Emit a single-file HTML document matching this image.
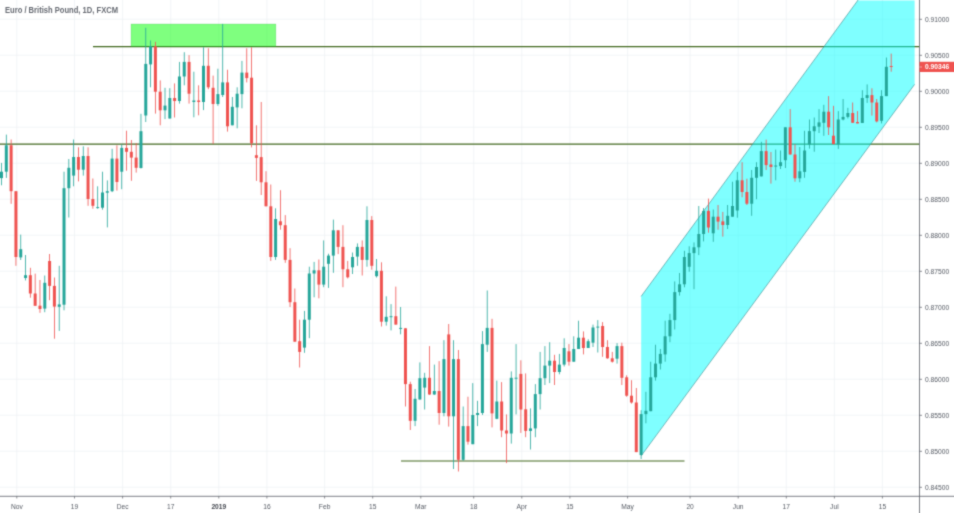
<!DOCTYPE html>
<html><head><meta charset="utf-8"><title>EURGBP</title>
<style>
html,body{margin:0;padding:0;background:#fff;}
body{width:954px;height:513px;overflow:hidden;font-family:"Liberation Sans",sans-serif;}
svg{display:block;}
text{font-family:"Liberation Sans",sans-serif;}
</style></head><body>
<svg width="954" height="513" viewBox="0 0 954 513">
<defs><filter id="soft" x="0" y="0" width="100%" height="100%" filterUnits="userSpaceOnUse" color-interpolation-filters="sRGB"><feConvolveMatrix order="3" kernelMatrix="0.03 0.1 0.03 0.1 0.48 0.1 0.03 0.1 0.03" divisor="1" edgeMode="duplicate" preserveAlpha="true"/></filter></defs>
<g filter="url(#soft)">
<rect x="-5" y="-5" width="964" height="523" fill="#ffffff"/>
<g stroke="#ecf0f4" stroke-width="0.7" fill="none">
<line x1="0" y1="19.2" x2="919.5" y2="19.2"/>
<line x1="0" y1="55.2" x2="919.5" y2="55.2"/>
<line x1="0" y1="91.2" x2="919.5" y2="91.2"/>
<line x1="0" y1="127.2" x2="919.5" y2="127.2"/>
<line x1="0" y1="163.2" x2="919.5" y2="163.2"/>
<line x1="0" y1="199.2" x2="919.5" y2="199.2"/>
<line x1="0" y1="235.2" x2="919.5" y2="235.2"/>
<line x1="0" y1="271.2" x2="919.5" y2="271.2"/>
<line x1="0" y1="307.2" x2="919.5" y2="307.2"/>
<line x1="0" y1="343.2" x2="919.5" y2="343.2"/>
<line x1="0" y1="379.2" x2="919.5" y2="379.2"/>
<line x1="0" y1="415.2" x2="919.5" y2="415.2"/>
<line x1="0" y1="451.2" x2="919.5" y2="451.2"/>
<line x1="0" y1="487.2" x2="919.5" y2="487.2"/>
<line x1="16.8" y1="0" x2="16.8" y2="496.3"/>
<line x1="74.5" y1="0" x2="74.5" y2="496.3"/>
<line x1="122.6" y1="0" x2="122.6" y2="496.3"/>
<line x1="170.7" y1="0" x2="170.7" y2="496.3"/>
<line x1="218.8" y1="0" x2="218.8" y2="496.3"/>
<line x1="266.9" y1="0" x2="266.9" y2="496.3"/>
<line x1="324.6" y1="0" x2="324.6" y2="496.3"/>
<line x1="372.7" y1="0" x2="372.7" y2="496.3"/>
<line x1="420.8" y1="0" x2="420.8" y2="496.3"/>
<line x1="473.7" y1="0" x2="473.7" y2="496.3"/>
<line x1="521.8" y1="0" x2="521.8" y2="496.3"/>
<line x1="569.9" y1="0" x2="569.9" y2="496.3"/>
<line x1="627.6" y1="0" x2="627.6" y2="496.3"/>
<line x1="690.1" y1="0" x2="690.1" y2="496.3"/>
<line x1="738.2" y1="0" x2="738.2" y2="496.3"/>
<line x1="786.3" y1="0" x2="786.3" y2="496.3"/>
<line x1="834.4" y1="0" x2="834.4" y2="496.3"/>
<line x1="882.4" y1="0" x2="882.4" y2="496.3"/>
</g>
<line x1="93" y1="46.6" x2="919.5" y2="46.6" stroke="#42691f" stroke-width="1.15"/>
<line x1="0" y1="144.15" x2="919.5" y2="144.15" stroke="#42691f" stroke-width="1.15"/>
<line x1="401" y1="461" x2="684.5" y2="461" stroke="#42691f" stroke-width="1.15"/>
<rect x="131" y="24" width="144.9" height="22.5" fill="#00ff00" fill-opacity="0.5" stroke="#2a9a3a" stroke-opacity="0.35" stroke-width="0.5"/>
<polygon points="641.2,296.3 857.7,0.6 914.6,0.6 914.6,84.4 641.2,455.8" fill="#00ffff" fill-opacity="0.5"/>
<line x1="641.2" y1="296.3" x2="858.1" y2="0" stroke="#3f8f92" stroke-width="0.7" stroke-opacity="0.9"/>
<line x1="641.2" y1="455.8" x2="914.6" y2="84.4" stroke="#3f8f92" stroke-width="0.7" stroke-opacity="0.9"/>
<g>
<rect x="1.10" y="162.9" width="0.8" height="22.4" fill="#26a69a"/><rect x="0.00" y="171.7" width="3" height="6.4" fill="#26a69a"/>
<rect x="5.91" y="134.6" width="0.8" height="43.3" fill="#26a69a"/><rect x="4.81" y="145.3" width="3" height="26.4" fill="#26a69a"/>
<rect x="10.72" y="139.5" width="0.8" height="64.3" fill="#ef5350"/><rect x="9.62" y="145.3" width="3" height="45.9" fill="#ef5350"/>
<rect x="15.53" y="191.2" width="0.8" height="74.6" fill="#ef5350"/><rect x="14.43" y="191.2" width="3" height="65.8" fill="#ef5350"/>
<rect x="20.34" y="234.6" width="0.8" height="25.4" fill="#26a69a"/><rect x="19.24" y="249.2" width="3" height="8.2" fill="#26a69a"/>
<rect x="25.15" y="255.0" width="0.8" height="25.4" fill="#26a69a"/><rect x="24.05" y="275.2" width="3" height="2.8" fill="#26a69a"/>
<rect x="29.95" y="267.8" width="0.8" height="29.9" fill="#ef5350"/><rect x="28.85" y="275.2" width="3" height="18.3" fill="#ef5350"/>
<rect x="34.76" y="273.6" width="0.8" height="32.2" fill="#ef5350"/><rect x="33.66" y="293.5" width="3" height="12.3" fill="#ef5350"/>
<rect x="39.57" y="280.0" width="0.8" height="32.8" fill="#ef5350"/><rect x="38.47" y="305.7" width="3" height="3.3" fill="#ef5350"/>
<rect x="44.38" y="275.5" width="0.8" height="36.7" fill="#26a69a"/><rect x="43.28" y="282.8" width="3" height="25.8" fill="#26a69a"/>
<rect x="49.19" y="254.0" width="0.8" height="46.2" fill="#ef5350"/><rect x="48.09" y="261.0" width="3" height="24.9" fill="#ef5350"/>
<rect x="54.00" y="277.5" width="0.8" height="61.2" fill="#ef5350"/><rect x="52.90" y="285.9" width="3" height="20.7" fill="#ef5350"/>
<rect x="58.81" y="265.8" width="0.8" height="65.1" fill="#26a69a"/><rect x="57.71" y="304.4" width="3" height="2.4" fill="#26a69a"/>
<rect x="63.62" y="171.7" width="0.8" height="138.6" fill="#26a69a"/><rect x="62.52" y="188.2" width="3" height="116.5" fill="#26a69a"/>
<rect x="68.43" y="159.0" width="0.8" height="58.5" fill="#26a69a"/><rect x="67.33" y="167.8" width="3" height="20.4" fill="#26a69a"/>
<rect x="73.23" y="139.5" width="0.8" height="46.8" fill="#26a69a"/><rect x="72.14" y="157.0" width="3" height="18.6" fill="#26a69a"/>
<rect x="78.04" y="147.3" width="0.8" height="34.1" fill="#ef5350"/><rect x="76.94" y="157.0" width="3" height="12.7" fill="#ef5350"/>
<rect x="82.85" y="146.3" width="0.8" height="29.3" fill="#26a69a"/><rect x="81.75" y="156.0" width="3" height="13.7" fill="#26a69a"/>
<rect x="87.66" y="147.3" width="0.8" height="58.5" fill="#ef5350"/><rect x="86.56" y="156.0" width="3" height="43.0" fill="#ef5350"/>
<rect x="92.47" y="178.5" width="0.8" height="30.2" fill="#ef5350"/><rect x="91.37" y="199.0" width="3" height="6.8" fill="#ef5350"/>
<rect x="97.28" y="186.3" width="0.8" height="22.4" fill="#26a69a"/><rect x="96.18" y="207.1" width="3" height="1.0" fill="#26a69a"/>
<rect x="102.09" y="171.7" width="0.8" height="38.0" fill="#26a69a"/><rect x="100.99" y="192.5" width="3" height="15.2" fill="#26a69a"/>
<rect x="106.90" y="180.4" width="0.8" height="47.0" fill="#26a69a"/><rect x="105.80" y="191.2" width="3" height="1.5" fill="#26a69a"/>
<rect x="111.71" y="148.8" width="0.8" height="43.3" fill="#26a69a"/><rect x="110.61" y="158.6" width="3" height="32.6" fill="#26a69a"/>
<rect x="116.52" y="145.3" width="0.8" height="45.3" fill="#ef5350"/><rect x="115.42" y="158.6" width="3" height="23.4" fill="#ef5350"/>
<rect x="121.33" y="144.4" width="0.8" height="44.8" fill="#26a69a"/><rect x="120.23" y="147.9" width="3" height="23.8" fill="#26a69a"/>
<rect x="126.13" y="130.7" width="0.8" height="40.0" fill="#ef5350"/><rect x="125.03" y="147.9" width="3" height="3.9" fill="#ef5350"/>
<rect x="130.94" y="140.0" width="0.8" height="40.8" fill="#ef5350"/><rect x="129.84" y="151.8" width="3" height="5.8" fill="#ef5350"/>
<rect x="135.75" y="143.0" width="0.8" height="29.6" fill="#ef5350"/><rect x="134.65" y="157.6" width="3" height="10.2" fill="#ef5350"/>
<rect x="140.56" y="113.8" width="0.8" height="54.7" fill="#26a69a"/><rect x="139.46" y="131.2" width="3" height="36.8" fill="#26a69a"/>
<rect x="145.37" y="27.8" width="0.8" height="94.2" fill="#26a69a"/><rect x="144.27" y="63.9" width="3" height="51.6" fill="#26a69a"/>
<rect x="150.18" y="40.5" width="0.8" height="46.8" fill="#26a69a"/><rect x="149.08" y="46.3" width="3" height="18.1" fill="#26a69a"/>
<rect x="154.99" y="41.8" width="0.8" height="71.8" fill="#ef5350"/><rect x="153.89" y="46.3" width="3" height="45.4" fill="#ef5350"/>
<rect x="159.80" y="80.4" width="0.8" height="44.9" fill="#ef5350"/><rect x="158.70" y="91.7" width="3" height="18.6" fill="#ef5350"/>
<rect x="164.61" y="87.8" width="0.8" height="31.3" fill="#26a69a"/><rect x="163.51" y="105.6" width="3" height="4.7" fill="#26a69a"/>
<rect x="169.41" y="88.2" width="0.8" height="30.3" fill="#26a69a"/><rect x="168.31" y="98.0" width="3" height="20.5" fill="#26a69a"/>
<rect x="174.22" y="83.4" width="0.8" height="34.1" fill="#ef5350"/><rect x="173.12" y="98.0" width="3" height="3.0" fill="#ef5350"/>
<rect x="179.03" y="61.9" width="0.8" height="41.7" fill="#26a69a"/><rect x="177.93" y="76.5" width="3" height="24.5" fill="#26a69a"/>
<rect x="183.84" y="52.2" width="0.8" height="33.1" fill="#26a69a"/><rect x="182.74" y="61.9" width="3" height="14.6" fill="#26a69a"/>
<rect x="188.65" y="55.1" width="0.8" height="48.5" fill="#ef5350"/><rect x="187.55" y="61.9" width="3" height="31.8" fill="#ef5350"/>
<rect x="193.46" y="71.7" width="0.8" height="45.6" fill="#26a69a"/><rect x="192.36" y="100.5" width="3" height="1.5" fill="#26a69a"/>
<rect x="198.27" y="85.3" width="0.8" height="30.0" fill="#ef5350"/><rect x="197.17" y="100.5" width="3" height="1.5" fill="#ef5350"/>
<rect x="203.08" y="47.3" width="0.8" height="62.8" fill="#26a69a"/><rect x="201.98" y="65.8" width="3" height="36.2" fill="#26a69a"/>
<rect x="207.89" y="48.3" width="0.8" height="40.9" fill="#ef5350"/><rect x="206.79" y="65.8" width="3" height="21.5" fill="#ef5350"/>
<rect x="212.70" y="75.6" width="0.8" height="68.3" fill="#ef5350"/><rect x="211.60" y="87.8" width="3" height="16.2" fill="#ef5350"/>
<rect x="217.50" y="68.7" width="0.8" height="37.1" fill="#26a69a"/><rect x="216.41" y="94.1" width="3" height="9.9" fill="#26a69a"/>
<rect x="222.31" y="23.9" width="0.8" height="73.1" fill="#26a69a"/><rect x="221.21" y="82.4" width="3" height="12.6" fill="#26a69a"/>
<rect x="227.12" y="69.7" width="0.8" height="61.9" fill="#ef5350"/><rect x="226.02" y="82.4" width="3" height="43.9" fill="#ef5350"/>
<rect x="231.93" y="97.0" width="0.8" height="28.3" fill="#26a69a"/><rect x="230.83" y="106.8" width="3" height="18.5" fill="#26a69a"/>
<rect x="236.74" y="87.3" width="0.8" height="41.0" fill="#26a69a"/><rect x="235.64" y="93.7" width="3" height="13.7" fill="#26a69a"/>
<rect x="241.55" y="60.9" width="0.8" height="47.4" fill="#26a69a"/><rect x="240.45" y="72.6" width="3" height="21.5" fill="#26a69a"/>
<rect x="246.36" y="48.3" width="0.8" height="34.1" fill="#ef5350"/><rect x="245.26" y="72.6" width="3" height="5.5" fill="#ef5350"/>
<rect x="251.17" y="47.3" width="0.8" height="100.1" fill="#ef5350"/><rect x="250.07" y="77.7" width="3" height="65.6" fill="#ef5350"/>
<rect x="255.98" y="125.3" width="0.8" height="55.6" fill="#ef5350"/><rect x="254.88" y="155.2" width="3" height="2.7" fill="#ef5350"/>
<rect x="260.79" y="102.0" width="0.8" height="93.0" fill="#ef5350"/><rect x="259.69" y="157.1" width="3" height="25.2" fill="#ef5350"/>
<rect x="265.60" y="171.2" width="0.8" height="35.1" fill="#ef5350"/><rect x="264.50" y="182.3" width="3" height="24.0" fill="#ef5350"/>
<rect x="270.40" y="184.5" width="0.8" height="76.4" fill="#ef5350"/><rect x="269.30" y="206.3" width="3" height="50.7" fill="#ef5350"/>
<rect x="275.21" y="208.3" width="0.8" height="51.6" fill="#26a69a"/><rect x="274.11" y="219.0" width="3" height="38.0" fill="#26a69a"/>
<rect x="280.02" y="190.2" width="0.8" height="39.5" fill="#ef5350"/><rect x="278.92" y="221.3" width="3" height="3.9" fill="#ef5350"/>
<rect x="284.83" y="215.1" width="0.8" height="47.7" fill="#ef5350"/><rect x="283.73" y="225.2" width="3" height="34.7" fill="#ef5350"/>
<rect x="289.64" y="248.2" width="0.8" height="58.8" fill="#ef5350"/><rect x="288.54" y="259.9" width="3" height="42.3" fill="#ef5350"/>
<rect x="294.45" y="288.5" width="0.8" height="53.2" fill="#ef5350"/><rect x="293.35" y="302.2" width="3" height="39.5" fill="#ef5350"/>
<rect x="299.26" y="319.7" width="0.8" height="47.8" fill="#ef5350"/><rect x="298.16" y="341.2" width="3" height="10.7" fill="#ef5350"/>
<rect x="304.07" y="310.9" width="0.8" height="41.9" fill="#26a69a"/><rect x="302.97" y="319.7" width="3" height="27.9" fill="#26a69a"/>
<rect x="308.88" y="266.7" width="0.8" height="71.5" fill="#26a69a"/><rect x="307.78" y="273.5" width="3" height="46.2" fill="#26a69a"/>
<rect x="313.69" y="261.9" width="0.8" height="35.4" fill="#26a69a"/><rect x="312.59" y="270.3" width="3" height="3.2" fill="#26a69a"/>
<rect x="318.49" y="259.5" width="0.8" height="38.8" fill="#ef5350"/><rect x="317.39" y="270.3" width="3" height="14.3" fill="#ef5350"/>
<rect x="323.30" y="240.4" width="0.8" height="46.8" fill="#26a69a"/><rect x="322.20" y="266.7" width="3" height="17.9" fill="#26a69a"/>
<rect x="328.11" y="253.7" width="0.8" height="34.2" fill="#26a69a"/><rect x="327.01" y="255.6" width="3" height="8.2" fill="#26a69a"/>
<rect x="332.92" y="219.6" width="0.8" height="53.2" fill="#26a69a"/><rect x="331.82" y="230.3" width="3" height="25.3" fill="#26a69a"/>
<rect x="337.73" y="230.3" width="0.8" height="23.8" fill="#ef5350"/><rect x="336.63" y="230.3" width="3" height="16.6" fill="#ef5350"/>
<rect x="342.54" y="225.2" width="0.8" height="62.0" fill="#ef5350"/><rect x="341.44" y="246.9" width="3" height="22.4" fill="#ef5350"/>
<rect x="347.35" y="260.9" width="0.8" height="17.5" fill="#ef5350"/><rect x="346.25" y="269.3" width="3" height="8.0" fill="#ef5350"/>
<rect x="352.16" y="252.5" width="0.8" height="21.5" fill="#26a69a"/><rect x="351.06" y="257.0" width="3" height="10.3" fill="#26a69a"/>
<rect x="356.97" y="243.4" width="0.8" height="22.4" fill="#26a69a"/><rect x="355.87" y="246.9" width="3" height="9.7" fill="#26a69a"/>
<rect x="361.78" y="240.4" width="0.8" height="35.1" fill="#ef5350"/><rect x="360.68" y="246.9" width="3" height="13.0" fill="#ef5350"/>
<rect x="366.58" y="206.3" width="0.8" height="60.4" fill="#26a69a"/><rect x="365.48" y="220.0" width="3" height="39.9" fill="#26a69a"/>
<rect x="371.39" y="216.1" width="0.8" height="53.6" fill="#ef5350"/><rect x="370.29" y="220.0" width="3" height="45.8" fill="#ef5350"/>
<rect x="376.20" y="259.0" width="0.8" height="18.5" fill="#26a69a"/><rect x="375.10" y="270.8" width="3" height="5.4" fill="#26a69a"/>
<rect x="381.01" y="262.3" width="0.8" height="64.2" fill="#ef5350"/><rect x="379.91" y="270.8" width="3" height="50.9" fill="#ef5350"/>
<rect x="385.82" y="296.3" width="0.8" height="29.3" fill="#26a69a"/><rect x="384.72" y="316.8" width="3" height="4.9" fill="#26a69a"/>
<rect x="390.63" y="304.1" width="0.8" height="26.3" fill="#26a69a"/><rect x="389.53" y="316.2" width="3" height="1.0" fill="#26a69a"/>
<rect x="395.44" y="286.6" width="0.8" height="38.0" fill="#ef5350"/><rect x="394.34" y="316.2" width="3" height="8.4" fill="#ef5350"/>
<rect x="400.25" y="307.0" width="0.8" height="27.3" fill="#26a69a"/><rect x="399.15" y="327.9" width="3" height="1.0" fill="#26a69a"/>
<rect x="405.06" y="328.1" width="0.8" height="78.4" fill="#ef5350"/><rect x="403.96" y="328.3" width="3" height="55.8" fill="#ef5350"/>
<rect x="409.87" y="381.7" width="0.8" height="48.3" fill="#ef5350"/><rect x="408.76" y="384.1" width="3" height="36.7" fill="#ef5350"/>
<rect x="414.67" y="389.0" width="0.8" height="37.1" fill="#26a69a"/><rect x="413.57" y="398.8" width="3" height="22.0" fill="#26a69a"/>
<rect x="419.48" y="362.4" width="0.8" height="37.1" fill="#26a69a"/><rect x="418.38" y="378.2" width="3" height="21.3" fill="#26a69a"/>
<rect x="424.29" y="372.8" width="0.8" height="36.7" fill="#26a69a"/><rect x="423.19" y="377.8" width="3" height="9.8" fill="#26a69a"/>
<rect x="429.10" y="346.1" width="0.8" height="48.7" fill="#ef5350"/><rect x="428.00" y="377.8" width="3" height="16.7" fill="#ef5350"/>
<rect x="433.91" y="364.6" width="0.8" height="30.2" fill="#26a69a"/><rect x="432.81" y="391.0" width="3" height="3.5" fill="#26a69a"/>
<rect x="438.72" y="361.1" width="0.8" height="63.6" fill="#ef5350"/><rect x="437.62" y="391.0" width="3" height="22.0" fill="#ef5350"/>
<rect x="443.53" y="340.2" width="0.8" height="76.1" fill="#26a69a"/><rect x="442.43" y="359.1" width="3" height="53.9" fill="#26a69a"/>
<rect x="448.34" y="324.0" width="0.8" height="102.6" fill="#ef5350"/><rect x="447.24" y="334.4" width="3" height="81.9" fill="#ef5350"/>
<rect x="453.15" y="340.2" width="0.8" height="128.8" fill="#26a69a"/><rect x="452.05" y="359.1" width="3" height="57.2" fill="#26a69a"/>
<rect x="457.96" y="350.0" width="0.8" height="121.5" fill="#ef5350"/><rect x="456.86" y="359.1" width="3" height="100.7" fill="#ef5350"/>
<rect x="462.76" y="406.5" width="0.8" height="54.1" fill="#26a69a"/><rect x="461.66" y="426.1" width="3" height="33.7" fill="#26a69a"/>
<rect x="467.57" y="396.7" width="0.8" height="47.9" fill="#ef5350"/><rect x="466.47" y="426.1" width="3" height="15.6" fill="#ef5350"/>
<rect x="472.38" y="383.1" width="0.8" height="61.1" fill="#26a69a"/><rect x="471.28" y="415.0" width="3" height="29.2" fill="#26a69a"/>
<rect x="477.19" y="400.8" width="0.8" height="25.3" fill="#26a69a"/><rect x="476.09" y="413.0" width="3" height="2.0" fill="#26a69a"/>
<rect x="482.00" y="331.1" width="0.8" height="83.9" fill="#26a69a"/><rect x="480.90" y="344.1" width="3" height="68.9" fill="#26a69a"/>
<rect x="486.81" y="290.5" width="0.8" height="61.4" fill="#26a69a"/><rect x="485.71" y="327.9" width="3" height="16.8" fill="#26a69a"/>
<rect x="491.62" y="318.8" width="0.8" height="108.6" fill="#ef5350"/><rect x="490.52" y="327.9" width="3" height="85.5" fill="#ef5350"/>
<rect x="496.43" y="380.6" width="0.8" height="38.6" fill="#26a69a"/><rect x="495.33" y="401.5" width="3" height="17.3" fill="#26a69a"/>
<rect x="501.24" y="382.1" width="0.8" height="55.1" fill="#ef5350"/><rect x="500.14" y="401.5" width="3" height="29.0" fill="#ef5350"/>
<rect x="506.05" y="414.4" width="0.8" height="48.7" fill="#ef5350"/><rect x="504.94" y="430.5" width="3" height="3.0" fill="#ef5350"/>
<rect x="510.85" y="371.4" width="0.8" height="72.2" fill="#26a69a"/><rect x="509.75" y="377.8" width="3" height="55.7" fill="#26a69a"/>
<rect x="515.66" y="344.1" width="0.8" height="70.3" fill="#26a69a"/><rect x="514.56" y="377.7" width="3" height="1.0" fill="#26a69a"/>
<rect x="520.47" y="360.3" width="0.8" height="72.6" fill="#ef5350"/><rect x="519.37" y="373.9" width="3" height="35.6" fill="#ef5350"/>
<rect x="525.28" y="373.4" width="0.8" height="63.8" fill="#ef5350"/><rect x="524.18" y="409.3" width="3" height="21.6" fill="#ef5350"/>
<rect x="530.09" y="408.4" width="0.8" height="41.1" fill="#26a69a"/><rect x="528.99" y="428.4" width="3" height="2.5" fill="#26a69a"/>
<rect x="534.90" y="384.1" width="0.8" height="53.1" fill="#26a69a"/><rect x="533.80" y="394.1" width="3" height="34.3" fill="#26a69a"/>
<rect x="539.71" y="351.9" width="0.8" height="57.6" fill="#26a69a"/><rect x="538.61" y="378.2" width="3" height="15.9" fill="#26a69a"/>
<rect x="544.52" y="346.1" width="0.8" height="38.9" fill="#26a69a"/><rect x="543.42" y="365.6" width="3" height="12.6" fill="#26a69a"/>
<rect x="549.33" y="342.2" width="0.8" height="40.9" fill="#26a69a"/><rect x="548.23" y="360.7" width="3" height="4.9" fill="#26a69a"/>
<rect x="554.13" y="354.8" width="0.8" height="30.2" fill="#ef5350"/><rect x="553.03" y="360.7" width="3" height="11.3" fill="#ef5350"/>
<rect x="558.94" y="353.9" width="0.8" height="20.4" fill="#26a69a"/><rect x="557.84" y="364.6" width="3" height="7.4" fill="#26a69a"/>
<rect x="563.75" y="338.3" width="0.8" height="28.2" fill="#26a69a"/><rect x="562.65" y="348.0" width="3" height="16.6" fill="#26a69a"/>
<rect x="568.56" y="344.1" width="0.8" height="21.5" fill="#ef5350"/><rect x="567.46" y="351.3" width="3" height="10.4" fill="#ef5350"/>
<rect x="573.37" y="336.3" width="0.8" height="25.4" fill="#26a69a"/><rect x="572.27" y="349.0" width="3" height="12.7" fill="#26a69a"/>
<rect x="578.18" y="320.7" width="0.8" height="28.3" fill="#26a69a"/><rect x="577.08" y="337.7" width="3" height="11.3" fill="#26a69a"/>
<rect x="582.99" y="331.4" width="0.8" height="23.0" fill="#ef5350"/><rect x="581.89" y="337.7" width="3" height="10.3" fill="#ef5350"/>
<rect x="587.80" y="339.2" width="0.8" height="8.8" fill="#26a69a"/><rect x="586.70" y="341.2" width="3" height="6.8" fill="#26a69a"/>
<rect x="592.61" y="324.6" width="0.8" height="22.4" fill="#26a69a"/><rect x="591.51" y="327.5" width="3" height="15.2" fill="#26a69a"/>
<rect x="597.42" y="320.1" width="0.8" height="32.4" fill="#26a69a"/><rect x="596.32" y="326.6" width="3" height="1.0" fill="#26a69a"/>
<rect x="602.23" y="322.1" width="0.8" height="34.7" fill="#ef5350"/><rect x="601.12" y="326.0" width="3" height="21.0" fill="#ef5350"/>
<rect x="607.03" y="340.2" width="0.8" height="18.5" fill="#ef5350"/><rect x="605.93" y="347.0" width="3" height="11.3" fill="#ef5350"/>
<rect x="611.84" y="351.9" width="0.8" height="10.7" fill="#ef5350"/><rect x="610.74" y="358.3" width="3" height="3.4" fill="#ef5350"/>
<rect x="616.65" y="343.1" width="0.8" height="20.5" fill="#26a69a"/><rect x="615.55" y="346.1" width="3" height="12.6" fill="#26a69a"/>
<rect x="621.46" y="342.7" width="0.8" height="42.3" fill="#ef5350"/><rect x="620.36" y="346.1" width="3" height="31.7" fill="#ef5350"/>
<rect x="626.27" y="375.3" width="0.8" height="21.4" fill="#ef5350"/><rect x="625.17" y="377.3" width="3" height="18.4" fill="#ef5350"/>
<rect x="631.08" y="380.2" width="0.8" height="23.4" fill="#ef5350"/><rect x="629.98" y="395.7" width="3" height="6.8" fill="#ef5350"/>
<rect x="635.89" y="388.0" width="0.8" height="64.1" fill="#ef5350"/><rect x="634.79" y="402.5" width="3" height="49.6" fill="#ef5350"/>
<rect x="640.70" y="410.2" width="0.8" height="48.8" fill="#26a69a"/><rect x="639.60" y="414.1" width="3" height="40.9" fill="#26a69a"/>
<rect x="645.51" y="391.8" width="0.8" height="31.5" fill="#26a69a"/><rect x="644.41" y="410.8" width="3" height="3.3" fill="#26a69a"/>
<rect x="650.32" y="361.7" width="0.8" height="49.5" fill="#26a69a"/><rect x="649.22" y="377.3" width="3" height="33.9" fill="#26a69a"/>
<rect x="655.12" y="344.7" width="0.8" height="35.9" fill="#26a69a"/><rect x="654.02" y="363.6" width="3" height="13.7" fill="#26a69a"/>
<rect x="659.93" y="349.0" width="0.8" height="20.5" fill="#26a69a"/><rect x="658.83" y="353.9" width="3" height="9.7" fill="#26a69a"/>
<rect x="664.74" y="320.7" width="0.8" height="41.0" fill="#26a69a"/><rect x="663.64" y="336.3" width="3" height="18.1" fill="#26a69a"/>
<rect x="669.55" y="313.8" width="0.8" height="28.4" fill="#26a69a"/><rect x="668.45" y="320.1" width="3" height="16.2" fill="#26a69a"/>
<rect x="674.36" y="281.4" width="0.8" height="48.1" fill="#26a69a"/><rect x="673.26" y="292.1" width="3" height="28.0" fill="#26a69a"/>
<rect x="679.17" y="273.0" width="0.8" height="22.6" fill="#26a69a"/><rect x="678.07" y="284.3" width="3" height="7.8" fill="#26a69a"/>
<rect x="683.98" y="250.8" width="0.8" height="36.5" fill="#26a69a"/><rect x="682.88" y="257.0" width="3" height="27.3" fill="#26a69a"/>
<rect x="688.79" y="246.3" width="0.8" height="25.4" fill="#26a69a"/><rect x="687.69" y="253.1" width="3" height="13.7" fill="#26a69a"/>
<rect x="693.60" y="242.4" width="0.8" height="46.8" fill="#26a69a"/><rect x="692.50" y="247.3" width="3" height="5.8" fill="#26a69a"/>
<rect x="698.41" y="206.0" width="0.8" height="49.1" fill="#26a69a"/><rect x="697.31" y="234.0" width="3" height="13.3" fill="#26a69a"/>
<rect x="703.21" y="208.0" width="0.8" height="33.4" fill="#26a69a"/><rect x="702.11" y="210.9" width="3" height="23.1" fill="#26a69a"/>
<rect x="708.02" y="198.6" width="0.8" height="34.1" fill="#ef5350"/><rect x="706.92" y="210.9" width="3" height="16.6" fill="#ef5350"/>
<rect x="712.83" y="209.5" width="0.8" height="32.3" fill="#26a69a"/><rect x="711.73" y="216.7" width="3" height="16.6" fill="#26a69a"/>
<rect x="717.64" y="205.0" width="0.8" height="24.7" fill="#ef5350"/><rect x="716.54" y="216.7" width="3" height="4.9" fill="#ef5350"/>
<rect x="722.45" y="211.9" width="0.8" height="24.7" fill="#ef5350"/><rect x="721.35" y="221.4" width="3" height="3.6" fill="#ef5350"/>
<rect x="727.26" y="205.0" width="0.8" height="24.0" fill="#26a69a"/><rect x="726.16" y="215.8" width="3" height="9.2" fill="#26a69a"/>
<rect x="732.07" y="181.7" width="0.8" height="35.0" fill="#26a69a"/><rect x="730.97" y="206.0" width="3" height="10.7" fill="#26a69a"/>
<rect x="736.88" y="171.9" width="0.8" height="45.8" fill="#26a69a"/><rect x="735.78" y="180.3" width="3" height="30.2" fill="#26a69a"/>
<rect x="741.69" y="162.2" width="0.8" height="35.1" fill="#ef5350"/><rect x="740.59" y="180.3" width="3" height="11.7" fill="#ef5350"/>
<rect x="746.50" y="178.7" width="0.8" height="26.3" fill="#ef5350"/><rect x="745.39" y="192.0" width="3" height="11.7" fill="#ef5350"/>
<rect x="751.30" y="170.0" width="0.8" height="45.8" fill="#26a69a"/><rect x="750.20" y="177.8" width="3" height="25.9" fill="#26a69a"/>
<rect x="756.11" y="162.2" width="0.8" height="37.0" fill="#26a69a"/><rect x="755.01" y="167.0" width="3" height="10.8" fill="#26a69a"/>
<rect x="760.92" y="141.8" width="0.8" height="34.6" fill="#26a69a"/><rect x="759.82" y="151.1" width="3" height="25.3" fill="#26a69a"/>
<rect x="765.73" y="139.6" width="0.8" height="30.4" fill="#ef5350"/><rect x="764.63" y="151.1" width="3" height="14.0" fill="#ef5350"/>
<rect x="770.54" y="152.0" width="0.8" height="31.6" fill="#ef5350"/><rect x="769.44" y="164.5" width="3" height="2.5" fill="#ef5350"/>
<rect x="775.35" y="149.6" width="0.8" height="30.7" fill="#26a69a"/><rect x="774.25" y="165.5" width="3" height="1.1" fill="#26a69a"/>
<rect x="780.16" y="150.5" width="0.8" height="18.5" fill="#26a69a"/><rect x="779.06" y="162.2" width="3" height="3.9" fill="#26a69a"/>
<rect x="784.97" y="127.3" width="0.8" height="40.7" fill="#26a69a"/><rect x="783.87" y="127.3" width="3" height="32.9" fill="#26a69a"/>
<rect x="789.78" y="109.1" width="0.8" height="45.4" fill="#ef5350"/><rect x="788.68" y="127.3" width="3" height="27.2" fill="#ef5350"/>
<rect x="794.59" y="144.2" width="0.8" height="37.5" fill="#ef5350"/><rect x="793.49" y="154.5" width="3" height="23.8" fill="#ef5350"/>
<rect x="799.39" y="147.0" width="0.8" height="35.2" fill="#26a69a"/><rect x="798.29" y="171.3" width="3" height="7.0" fill="#26a69a"/>
<rect x="804.20" y="130.8" width="0.8" height="47.0" fill="#26a69a"/><rect x="803.10" y="150.5" width="3" height="21.4" fill="#26a69a"/>
<rect x="809.01" y="119.5" width="0.8" height="29.1" fill="#26a69a"/><rect x="807.91" y="131.1" width="3" height="13.3" fill="#26a69a"/>
<rect x="813.82" y="117.5" width="0.8" height="34.2" fill="#26a69a"/><rect x="812.72" y="126.3" width="3" height="4.9" fill="#26a69a"/>
<rect x="818.63" y="109.1" width="0.8" height="23.9" fill="#26a69a"/><rect x="817.53" y="122.4" width="3" height="4.3" fill="#26a69a"/>
<rect x="823.44" y="104.8" width="0.8" height="31.0" fill="#26a69a"/><rect x="822.34" y="111.7" width="3" height="11.1" fill="#26a69a"/>
<rect x="828.25" y="96.1" width="0.8" height="38.9" fill="#ef5350"/><rect x="827.15" y="111.7" width="3" height="15.6" fill="#ef5350"/>
<rect x="833.06" y="105.8" width="0.8" height="38.4" fill="#ef5350"/><rect x="831.96" y="135.7" width="3" height="8.4" fill="#ef5350"/>
<rect x="837.87" y="111.1" width="0.8" height="37.8" fill="#26a69a"/><rect x="836.77" y="119.5" width="3" height="24.9" fill="#26a69a"/>
<rect x="842.68" y="99.0" width="0.8" height="21.4" fill="#26a69a"/><rect x="841.58" y="116.9" width="3" height="2.6" fill="#26a69a"/>
<rect x="847.48" y="107.8" width="0.8" height="10.7" fill="#26a69a"/><rect x="846.38" y="113.0" width="3" height="3.9" fill="#26a69a"/>
<rect x="852.29" y="102.5" width="0.8" height="20.3" fill="#ef5350"/><rect x="851.19" y="113.0" width="3" height="9.8" fill="#ef5350"/>
<rect x="857.10" y="111.1" width="0.8" height="12.3" fill="#ef5350"/><rect x="856.00" y="122.0" width="3" height="1.4" fill="#ef5350"/>
<rect x="861.91" y="90.2" width="0.8" height="32.8" fill="#26a69a"/><rect x="860.81" y="98.0" width="3" height="25.0" fill="#26a69a"/>
<rect x="866.72" y="84.4" width="0.8" height="18.5" fill="#26a69a"/><rect x="865.62" y="95.1" width="3" height="2.9" fill="#26a69a"/>
<rect x="871.53" y="88.3" width="0.8" height="27.3" fill="#ef5350"/><rect x="870.43" y="95.1" width="3" height="7.4" fill="#ef5350"/>
<rect x="876.34" y="99.0" width="0.8" height="23.4" fill="#ef5350"/><rect x="875.24" y="102.5" width="3" height="18.9" fill="#ef5350"/>
<rect x="881.15" y="90.2" width="0.8" height="33.2" fill="#26a69a"/><rect x="880.05" y="96.1" width="3" height="24.7" fill="#26a69a"/>
<rect x="885.96" y="57.5" width="0.8" height="38.6" fill="#26a69a"/><rect x="884.86" y="66.8" width="3" height="29.3" fill="#26a69a"/>
<rect x="890.77" y="53.6" width="0.8" height="18.1" fill="#ef5350"/><rect x="889.67" y="66.0" width="3" height="1.0" fill="#ef5350"/>
</g>
<rect x="919.5" y="0" width="34.5" height="513" fill="#fff"/>
<rect x="0" y="496.3" width="954" height="16.69999999999999" fill="#fff"/>
<line x1="919.5" y1="0" x2="919.5" y2="513" stroke="#5c6068" stroke-width="0.8"/>
<line x1="0" y1="496.3" x2="954" y2="496.3" stroke="#5c6068" stroke-width="0.8"/>
<g font-size="7.3" fill="#555a63" opacity="0.999">
<line x1="919.5" y1="19.3" x2="922.0" y2="19.3" stroke="#5c6068" stroke-width="0.7"/><text transform="translate(925.00,22.00) scale(0.915,1)" text-anchor="start">0.91000</text>
<line x1="919.5" y1="55.3" x2="922.0" y2="55.3" stroke="#5c6068" stroke-width="0.7"/><text transform="translate(925.00,58.00) scale(0.915,1)" text-anchor="start">0.90500</text>
<line x1="919.5" y1="91.3" x2="922.0" y2="91.3" stroke="#5c6068" stroke-width="0.7"/><text transform="translate(925.00,94.00) scale(0.915,1)" text-anchor="start">0.90000</text>
<line x1="919.5" y1="127.3" x2="922.0" y2="127.3" stroke="#5c6068" stroke-width="0.7"/><text transform="translate(925.00,130.00) scale(0.915,1)" text-anchor="start">0.89500</text>
<line x1="919.5" y1="163.3" x2="922.0" y2="163.3" stroke="#5c6068" stroke-width="0.7"/><text transform="translate(925.00,166.00) scale(0.915,1)" text-anchor="start">0.89000</text>
<line x1="919.5" y1="199.3" x2="922.0" y2="199.3" stroke="#5c6068" stroke-width="0.7"/><text transform="translate(925.00,202.00) scale(0.915,1)" text-anchor="start">0.88500</text>
<line x1="919.5" y1="235.3" x2="922.0" y2="235.3" stroke="#5c6068" stroke-width="0.7"/><text transform="translate(925.00,238.00) scale(0.915,1)" text-anchor="start">0.88000</text>
<line x1="919.5" y1="271.3" x2="922.0" y2="271.3" stroke="#5c6068" stroke-width="0.7"/><text transform="translate(925.00,274.00) scale(0.915,1)" text-anchor="start">0.87500</text>
<line x1="919.5" y1="307.3" x2="922.0" y2="307.3" stroke="#5c6068" stroke-width="0.7"/><text transform="translate(925.00,310.00) scale(0.915,1)" text-anchor="start">0.87000</text>
<line x1="919.5" y1="343.3" x2="922.0" y2="343.3" stroke="#5c6068" stroke-width="0.7"/><text transform="translate(925.00,346.00) scale(0.915,1)" text-anchor="start">0.86500</text>
<line x1="919.5" y1="379.3" x2="922.0" y2="379.3" stroke="#5c6068" stroke-width="0.7"/><text transform="translate(925.00,382.00) scale(0.915,1)" text-anchor="start">0.86000</text>
<line x1="919.5" y1="415.3" x2="922.0" y2="415.3" stroke="#5c6068" stroke-width="0.7"/><text transform="translate(925.00,418.00) scale(0.915,1)" text-anchor="start">0.85500</text>
<line x1="919.5" y1="451.3" x2="922.0" y2="451.3" stroke="#5c6068" stroke-width="0.7"/><text transform="translate(925.00,454.00) scale(0.915,1)" text-anchor="start">0.85000</text>
<line x1="919.5" y1="487.3" x2="922.0" y2="487.3" stroke="#5c6068" stroke-width="0.7"/><text transform="translate(925.00,490.00) scale(0.915,1)" text-anchor="start">0.84500</text>
<line x1="16.8" y1="496.3" x2="16.8" y2="498.5" stroke="#5c6068" stroke-width="0.7"/><text transform="translate(16.83,508.50) scale(0.915,1)" text-anchor="middle">Nov</text>
<line x1="74.5" y1="496.3" x2="74.5" y2="498.5" stroke="#5c6068" stroke-width="0.7"/><text transform="translate(74.54,508.50) scale(0.915,1)" text-anchor="middle">19</text>
<line x1="122.6" y1="496.3" x2="122.6" y2="498.5" stroke="#5c6068" stroke-width="0.7"/><text transform="translate(122.63,508.50) scale(0.915,1)" text-anchor="middle">Dec</text>
<line x1="170.7" y1="496.3" x2="170.7" y2="498.5" stroke="#5c6068" stroke-width="0.7"/><text transform="translate(170.72,508.50) scale(0.915,1)" text-anchor="middle">17</text>
<line x1="218.8" y1="496.3" x2="218.8" y2="498.5" stroke="#5c6068" stroke-width="0.7"/><text transform="translate(218.81,508.50) scale(0.915,1)" text-anchor="middle" font-weight="bold" fill="#444850">2019</text>
<line x1="266.9" y1="496.3" x2="266.9" y2="498.5" stroke="#5c6068" stroke-width="0.7"/><text transform="translate(266.89,508.50) scale(0.915,1)" text-anchor="middle">16</text>
<line x1="324.6" y1="496.3" x2="324.6" y2="498.5" stroke="#5c6068" stroke-width="0.7"/><text transform="translate(324.60,508.50) scale(0.915,1)" text-anchor="middle">Feb</text>
<line x1="372.7" y1="496.3" x2="372.7" y2="498.5" stroke="#5c6068" stroke-width="0.7"/><text transform="translate(372.69,508.50) scale(0.915,1)" text-anchor="middle">15</text>
<line x1="420.8" y1="496.3" x2="420.8" y2="498.5" stroke="#5c6068" stroke-width="0.7"/><text transform="translate(420.78,508.50) scale(0.915,1)" text-anchor="middle">Mar</text>
<line x1="473.7" y1="496.3" x2="473.7" y2="498.5" stroke="#5c6068" stroke-width="0.7"/><text transform="translate(473.68,508.50) scale(0.915,1)" text-anchor="middle">18</text>
<line x1="521.8" y1="496.3" x2="521.8" y2="498.5" stroke="#5c6068" stroke-width="0.7"/><text transform="translate(521.77,508.50) scale(0.915,1)" text-anchor="middle">Apr</text>
<line x1="569.9" y1="496.3" x2="569.9" y2="498.5" stroke="#5c6068" stroke-width="0.7"/><text transform="translate(569.86,508.50) scale(0.915,1)" text-anchor="middle">15</text>
<line x1="627.6" y1="496.3" x2="627.6" y2="498.5" stroke="#5c6068" stroke-width="0.7"/><text transform="translate(627.57,508.50) scale(0.915,1)" text-anchor="middle">May</text>
<line x1="690.1" y1="496.3" x2="690.1" y2="498.5" stroke="#5c6068" stroke-width="0.7"/><text transform="translate(690.09,508.50) scale(0.915,1)" text-anchor="middle">20</text>
<line x1="738.2" y1="496.3" x2="738.2" y2="498.5" stroke="#5c6068" stroke-width="0.7"/><text transform="translate(738.18,508.50) scale(0.915,1)" text-anchor="middle">Jun</text>
<line x1="786.3" y1="496.3" x2="786.3" y2="498.5" stroke="#5c6068" stroke-width="0.7"/><text transform="translate(786.27,508.50) scale(0.915,1)" text-anchor="middle">17</text>
<line x1="834.4" y1="496.3" x2="834.4" y2="498.5" stroke="#5c6068" stroke-width="0.7"/><text transform="translate(834.36,508.50) scale(0.915,1)" text-anchor="middle">Jul</text>
<line x1="882.4" y1="496.3" x2="882.4" y2="498.5" stroke="#5c6068" stroke-width="0.7"/><text transform="translate(882.45,508.50) scale(0.915,1)" text-anchor="middle">15</text>
</g>
<rect x="919.5" y="61.8" width="34.5" height="10.2" fill="#ef5350"/>
<line x1="919.5" y1="67" x2="922.0" y2="67" stroke="#fff" stroke-width="0.7" stroke-opacity="0.7"/><g font-size="7.3" font-weight="bold" fill="#fff" opacity="0.999"><text transform="translate(925.00,69.30) scale(0.915,1)" text-anchor="start">0.90346</text></g>
<text x="5" y="12.9" font-size="8.4" font-weight="bold" fill="#666a72" textLength="113" lengthAdjust="spacingAndGlyphs">Euro / British Pound, 1D, FXCM</text>
</g>
</svg>
</body></html>
